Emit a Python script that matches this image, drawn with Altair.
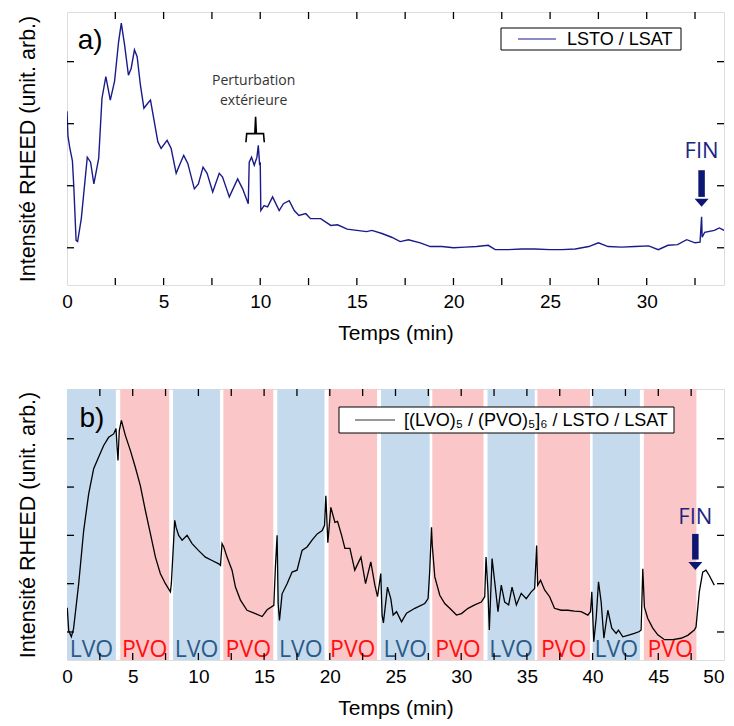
import altair as alt
import pandas as pd

# ---------------- panel a) data ----------------
t_a = [0, 0.05, 0.15, 0.28, 0.35, 0.47, 0.55, 0.74, 1.05, 1.22, 1.39, 1.64, 1.81, 2.01, 2.24, 2.46,
       2.67, 2.81, 2.98, 3.18, 3.32, 3.49, 3.63, 3.80, 3.98, 4.18, 4.32, 4.49, 4.70, 4.87, 5.18, 5.39,
       5.65, 5.82, 6.04, 6.25, 6.59, 6.80, 7.04, 7.25, 7.54, 7.88, 8.05, 8.40, 8.83, 9.09, 9.38, 9.43,
       9.55, 9.69, 9.83, 9.90, 9.97, 10.0, 10.03, 10.2, 10.38, 10.64, 10.98, 11.2, 11.5, 11.76, 12.0,
       12.36, 12.6, 13.13, 13.65, 14.0, 14.5, 15.0, 15.5, 15.78, 16.3, 16.8, 17.24, 17.67, 18.28, 18.8,
       19.4, 20.0, 20.6, 21.2, 21.8, 22.16, 22.84, 23.53, 24.2, 25.0, 25.6, 26.3, 27.0, 27.5, 28.0,
       28.7, 29.4, 30.1, 30.6, 31.1, 31.6, 32.07, 32.5, 32.76, 32.84, 32.87, 33.0, 33.5, 33.76, 34.0]
v_a = [2.2, 1.8, 1.6, 1.4, 1.0, 0.12, 0.10, 0.47, 1.46, 1.38, 1.03, 1.44, 2.41, 2.76, 2.38, 2.68,
       3.32, 3.62, 3.27, 2.78, 2.89, 3.19, 3.08, 2.62, 2.25, 2.33, 2.38, 2.08, 1.71, 1.60, 1.73, 1.60,
       1.20, 1.33, 1.49, 1.36, 0.95, 1.03, 1.30, 1.20, 0.90, 1.20, 1.14, 0.82, 1.11, 0.95, 0.71, 1.38,
       1.46, 1.33, 1.46, 1.65, 1.33, 1.38, 0.60, 0.68, 0.66, 0.82, 0.60, 0.71, 0.76, 0.60, 0.52,
       0.55, 0.47, 0.47, 0.36, 0.37, 0.30, 0.28, 0.26, 0.28, 0.23, 0.17, 0.10, 0.13, 0.08, 0.02,
       0.02, 0.0, 0.01, 0.02, 0.04, -0.03, -0.03, -0.02, -0.02, -0.03, -0.03, -0.02, 0.02, 0.08, 0.02,
       0.01, 0.02, 0.03, -0.03, 0.04, 0.05, 0.13, 0.08, 0.09, 0.50, 0.17, 0.25, 0.28, 0.32, 0.28]

# bracket over the "perturbation"
br_t = [9.26, 9.30, 9.72, 9.76, 9.80, 10.17, 10.21]
br_v = [1.70, 1.84, 1.84, 2.11, 1.84, 1.84, 1.70]
pert_t = [9.66, 9.66]
pert_v = [2.68, 2.36]
pert_txt = ["Perturbation", "extérieure"]

# ---------------- panel b) data ----------------
t_b = [0.02, 0.13, 0.33, 0.5, 0.89, 1.27, 1.65, 2.03, 2.41, 2.79, 3.17, 3.55, 3.73, 3.81, 3.88, 3.98,
       4.14, 4.44, 4.82, 5.2, 5.58, 5.96, 6.35, 6.73, 7.1, 7.49, 7.87, 7.94, 8.2, 8.3, 8.5, 8.76, 9.14,
       9.52, 10.0, 10.53, 11.04, 11.55, 11.68, 11.8, 11.93, 12.18, 12.56, 12.82, 13.2, 13.7, 14.34,
       14.85, 15.23, 15.74, 15.86, 15.99, 16.07, 16.17, 16.37, 16.75, 17.13, 17.51, 17.89, 18.27,
       18.65, 19.04, 19.42, 19.6, 19.7, 19.85, 20.08, 20.39, 20.59, 20.9, 21.15, 21.53, 21.9, 22.37,
       22.72, 23.12, 23.43, 23.63, 23.88, 23.98, 24.08, 24.39, 24.64, 24.82, 25.08, 25.46, 25.84,
       26.47, 27.23, 27.48, 27.6, 27.74, 27.8, 27.99, 28.37, 28.75, 29.13, 29.64, 30.02, 30.52, 31.03,
       31.53, 31.79, 31.89, 32.04, 32.14, 32.35, 32.55, 32.8, 33.05, 33.31, 33.61, 33.87, 34.2, 34.57,
       34.95, 35.33, 35.59, 35.74, 35.82, 36.04, 36.35, 36.73, 37.1, 37.61, 38.12, 38.62, 39.13,
       39.64, 39.84, 39.94, 40.09, 40.27, 40.45, 40.65, 40.86, 41.16, 41.46, 41.79, 41.97, 42.3,
       42.68, 43.18, 43.56, 43.69, 43.82, 43.94, 44.2, 44.58, 44.96, 45.47, 46.1, 46.73, 47.24,
       47.74, 47.87, 48.12, 48.38, 48.63, 48.88, 49.26]
v_b = [1.5, 1.03, 0.90, 1.07, 2.0, 3.10, 3.86, 4.38, 4.62, 4.86, 5.03, 5.10, 5.21, 4.83, 4.55, 5.17,
       5.38, 5.07, 4.76, 4.41, 4.03, 3.52, 3.03, 2.55, 2.21, 2.0, 1.83, 2.0, 3.31, 3.17, 3.0, 2.90, 3.0,
       2.83, 2.69, 2.55, 2.48, 2.41, 2.38, 2.83, 2.76, 2.55, 2.28, 1.93, 1.66, 1.45, 1.38,
       1.32, 1.46, 1.55, 2.34, 3.0, 1.59, 1.24, 1.79, 2.0, 2.24, 2.28, 2.69, 2.76,
       2.90, 3.03, 3.10, 3.21, 3.82, 2.85, 3.58, 3.27, 3.29, 3.0, 2.73, 2.73, 2.28, 2.55,
       2.0, 2.45, 1.97, 1.73, 2.21, 1.35, 1.19, 1.93, 1.69, 1.35, 1.42, 1.21, 1.39,
       1.49, 1.59, 1.69, 2.24, 3.17, 2.79, 2.14, 1.76, 1.59, 1.49, 1.35, 1.38, 1.49, 1.56,
       1.62, 1.73, 2.55, 1.83, 1.04, 2.52, 2.04, 1.42, 1.97, 1.62, 1.56, 1.93, 1.56, 1.80,
       1.69, 1.83, 1.90, 2.79, 1.97, 2.07, 1.87, 1.73, 1.49, 1.45, 1.45, 1.43, 1.42,
       1.35, 1.42, 1.83, 0.80, 1.28, 2.04, 1.62, 0.87, 1.45, 1.08, 0.97, 1.04, 0.90,
       0.93, 0.97, 1.01, 1.04, 2.31, 1.52, 1.28, 1.08, 0.94, 0.84, 0.84, 0.87, 0.93,
       1.04, 1.10, 1.83, 2.24, 2.28, 2.17, 1.97]

band_start = [0.0, 4.05, 8.07, 11.9, 16.0, 19.9, 23.9, 27.8, 32.0, 35.8, 40.0, 43.9]
band_end = [3.72, 7.78, 11.65, 15.7, 19.6, 23.6, 27.6, 31.7, 35.6, 39.8, 43.6, 47.9]
band_kind = ["LVO", "PVO"] * 6

# axis ticks / labels
ticks_a = [0, 5, 10, 15, 20, 25, 30]
minor_a = [2.5, 5, 7.5, 10, 12.5, 15, 17.5, 20, 22.5, 25, 27.5, 30, 32.5]
yt_a = [0, 1, 2, 3]
ticks_b = [0, 5, 10, 15, 20, 25, 30, 35, 40, 45, 50]
minor_b = [2.5, 5, 7.5, 10, 12.5, 15, 17.5, 20, 22.5, 25, 27.5, 30, 32.5, 35, 37.5, 40, 42.5, 45, 47.5]
yt_b = [1, 2, 3, 4, 5]

fin_a = {"t": 32.84, "text": 1.56, "top": 1.25, "bot": 0.82, "head": 0.73}
fin_b = {"t": 47.82, "text": 3.38, "top": 3.03, "bot": 2.50, "head": 2.37}

W = 657
HA = 273
HB = 271
NAVY = "#1a1a8a"
ARROW = "#0d1670"
FONT = "Liberation Sans"
FONT2 = "Open Sans"
YTITLE = "Intensité RHEED (unit. arb.)"


def xenc(sc, vals, xmax, field="t"):
    return alt.X(f"{field}:Q", scale=sc,
                 axis=alt.Axis(values=vals, title="Temps (min)", ticks=False, grid=False, domain=False,
                               labelFontSize=19, titleFontSize=21, labelFont=FONT, titleFont=FONT,
                               titleFontWeight="normal", labelColor="black", titleColor="black",
                               labelPadding=7, titlePadding=11, labelFlush=False,
                               labelAlign={"expr": f"datum.value >= {xmax} ? 'right' : 'center'"}))


def yenc(sc, field="v"):
    return alt.Y(f"{field}:Q", scale=sc,
                 axis=alt.Axis(labels=False, ticks=False, grid=False, domain=False, title=YTITLE,
                               titleFontSize=21.5, titleFont=FONT, titleFontWeight="normal",
                               titleColor="black", titlePadding=28))


def panel(t, v, sx, sy, vals, xmax, minor, yt, H, color, width):
    X = xenc(sx, vals, xmax)
    Y = yenc(sy)
    line = alt.Chart(pd.DataFrame({"t": t, "v": v})).mark_line(
        color=color, strokeWidth=width, clip=True).encode(x=X, y=Y)
    dmin = pd.DataFrame({"t": minor})
    dy = pd.DataFrame({"v": yt})
    tk = dict(color="black", strokeWidth=1.3)
    xb = alt.Chart(dmin).mark_rule(**tk).encode(x=X, y=alt.value(H), y2=alt.value(H - 7))
    xt = alt.Chart(dmin).mark_rule(**tk).encode(x=X, y=alt.value(0), y2=alt.value(7))
    yl = alt.Chart(dy).mark_rule(**tk).encode(y=Y, x=alt.value(0), x2=alt.value(7))
    yr = alt.Chart(dy).mark_rule(**tk).encode(y=Y, x=alt.value(W - 7), x2=alt.value(W))
    return X, Y, line, [xb, xt, yl, yr]


def arrow(X, Y, sy, fin):
    d = pd.DataFrame({"t": [fin["t"]], "v": [fin["top"]], "v2": [fin["bot"]],
                      "vh": [fin["head"]], "vt": [fin["text"]], "txt": ["FIN"]})
    shaft = alt.Chart(d).mark_rule(color=ARROW, strokeWidth=6.5).encode(x=X, y=Y, y2="v2:Q")
    head = alt.Chart(d).mark_point(shape="M-1,-0.55L1,-0.55L0,0.6Z", filled=True, size=196,
                                   color=ARROW, opacity=1).encode(
        x=X, y=alt.Y("vh:Q", scale=sy))
    txt = alt.Chart(d).mark_text(font=FONT2, fontSize=22, color="#1c2482", baseline="middle").encode(
        x=X, y=alt.Y("vt:Q", scale=sy), text="txt:N")
    return [shaft, head, txt]


def legend(x0, x1, y0, y1, lx0, lx1, tx, label, color):
    d = pd.DataFrame({"a": [0]})
    box = alt.Chart(d).mark_rect(fill="white", stroke="black", strokeWidth=1).encode(
        x=alt.value(x0), x2=alt.value(x1), y=alt.value(y0), y2=alt.value(y1))
    ym = (y0 + y1) / 2
    ln = alt.Chart(d).mark_rule(color=color, strokeWidth=1.2).encode(
        x=alt.value(lx0), x2=alt.value(lx1), y=alt.value(ym))
    tt = alt.Chart(d).mark_text(font=FONT, fontSize=18, align="left", baseline="middle",
                                color="black", text=label).encode(x=alt.value(tx), y=alt.value(ym + 1))
    return [box, ln, tt]


# ---------------- panel a ----------------
SXA = alt.Scale(domain=[0, 34], nice=False, zero=False)
SYA = alt.Scale(domain=[-0.6, 3.8], nice=False, zero=False)
XA, YA, line_a, ticksA = panel(t_a, v_a, SXA, SYA, ticks_a, 34, minor_a, yt_a, HA, NAVY, 1.4)
brk = alt.Chart(pd.DataFrame({"t": br_t, "v": br_v, "o": list(range(len(br_t)))})).mark_line(
    color="black", strokeWidth=1.6).encode(x=XA, y=YA, order="o:Q")
pert = alt.Chart(pd.DataFrame({"t": pert_t, "v": pert_v, "txt": pert_txt})).mark_text(
    font=FONT2, fontSize=14, color="#333333").encode(x=XA, y=YA, text="txt:N")
lab_a = alt.Chart(pd.DataFrame({"t": [0.55], "v": [3.34], "txt": ["a)"]})).mark_text(
    font=FONT, fontSize=28, align="left", baseline="middle", color="black").encode(x=XA, y=YA, text="txt:N")

top = alt.layer(line_a, brk, pert, lab_a, *arrow(XA, YA, SYA, fin_a), *ticksA,
                *legend(434, 614, 16, 38, 451, 489, 500, "LSTO / LSAT", NAVY)).properties(width=W, height=HA)

# ---------------- panel b ----------------
SXB = alt.Scale(domain=[0, 50], nice=False, zero=False)
SYB = alt.Scale(domain=[0.42, 6.03], nice=False, zero=False)
XB, YB, line_b, ticksB = panel(t_b, v_b, SXB, SYB, ticks_b, 50, minor_b, yt_b, HB, "black", 1.3)
bands_df = pd.DataFrame({"t": band_start, "t2": band_end, "kind": band_kind,
                         "tc": [(a + b) / 2 for a, b in zip(band_start, band_end)]})
bands = alt.Chart(bands_df).mark_rect().encode(
    x=XB, x2="t2:Q", y=alt.value(0), y2=alt.value(HB),
    color=alt.Color("kind:N", scale=alt.Scale(domain=["LVO", "PVO"], range=["#c6daed", "#fbc6c7"]),
                    legend=None))
blabels = alt.Chart(bands_df).mark_text(font=FONT2, fontSize=23, baseline="middle").encode(
    x=alt.X("tc:Q", scale=SXB), y=alt.value(HB - 10), text="kind:N",
    fill=alt.Fill("kind:N", scale=alt.Scale(domain=["LVO", "PVO"], range=["#2c5a88", "#ff1010"]),
                  legend=None))
lab_b = alt.Chart(pd.DataFrame({"t": [0.95], "v": [5.41], "txt": ["b)"]})).mark_text(
    font=FONT, fontSize=28, align="left", baseline="middle", color="black").encode(x=XB, y=YB, text="txt:N")

bottom = alt.layer(bands, line_b, blabels, lab_b, *arrow(XB, YB, SYB, fin_b), *ticksB,
                   *legend(272, 607, 18, 44, 288, 328, 337,
                           "[(LVO)₅ / (PVO)₅]₆ / LSTO / LSAT", "#333333")
                   ).properties(width=W, height=HB)

chart = alt.vconcat(top, bottom, spacing=43).properties(
    padding={"left": 8, "top": 2, "right": 0, "bottom": 0}
).configure_view(stroke="#222222", strokeWidth=1.5).configure(background="white")

chart.save("out.html", embed_options={"renderer": "svg", "actions": False})
